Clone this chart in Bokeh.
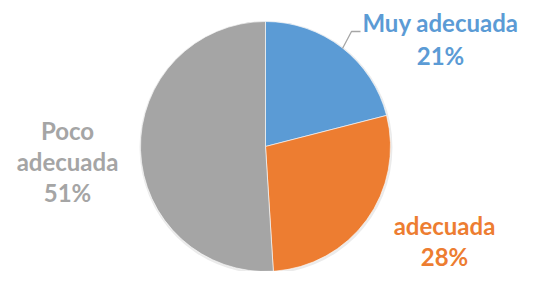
import math
from bokeh.plotting import figure
from bokeh.models import Range1d, ColumnDataSource
from bokeh.core.properties import value
from bokeh.embed import file_html
from bokeh.resources import INLINE

# ---- data ----
categories = ["Muy adecuada", "adecuada", "Poco adecuada"]
values = [21, 28, 51]
colors = ["#5B9BD5", "#ED7D31", "#A5A5A5"]
label_lines = [["Muy adecuada"], ["adecuada"], ["Poco", "adecuada"]]

# ---- layout (pixel coordinates from top-left of the figure) ----
W, H = 522, 271
TEXT_OFF = 10  # compensation for the rendered baseline position


def fx(sx):
    return sx


def fy(sy):
    return H - sy


cx, cy, R = 265, 146, 125
# anchor (center x, first baseline y, line spacing) for each label
label_pos = [(440, 32, 33), (444, 235, 31), (67, 140, 31)]
FONT = "Lato"
FSIZE = "24px"

p = figure(width=W, height=H, x_range=Range1d(0, W), y_range=Range1d(0, H),
           output_backend="svg", toolbar_location=None, min_border=0,
           background_fill_color="white", border_fill_color="white")
p.axis.visible = False
p.grid.visible = False
p.outline_line_color = None

total = float(sum(values))
starts, ends = [], []
cum = 0.0
for v in values:
    starts.append(math.pi / 2 - cum / total * 2 * math.pi)
    cum += v
    ends.append(math.pi / 2 - cum / total * 2 * math.pi)

src = ColumnDataSource(dict(cat=categories, val=values, color=colors,
                            start=starts, end=ends))

# faint shadow
p.circle(x=[fx(cx) + 0.5], y=[fy(cy) - 1], radius=R + 1.5, radius_units="screen",
         fill_color="#000000", fill_alpha=0.08, line_color=None)

p.wedge(x=fx(cx), y=fy(cy), radius=R, radius_units="screen",
        start_angle="start", end_angle="end", direction="clock",
        fill_color="color", line_color="white", line_width=0.6, source=src)

# leader line for "Muy adecuada"
p.line(x=[fx(342), fx(351), fx(360)], y=[fy(48), fy(31), fy(31)],
       line_color="#A6A6A6", line_width=1.3)

for i, (lines, v, c) in enumerate(zip(label_lines, values, colors)):
    ax, ay, ls = label_pos[i]
    all_lines = lines + [f"{v}%"]
    for j, t in enumerate(all_lines):
        p.text(x=[fx(ax)], y=[fy(ay + j * ls - TEXT_OFF)], text=[t],
               text_font=value(FONT), text_font_size=FSIZE,
               text_font_style="bold", text_color=c,
               text_align="center", text_baseline="alphabetic")

open("out.html", "w").write(file_html(p, INLINE))
